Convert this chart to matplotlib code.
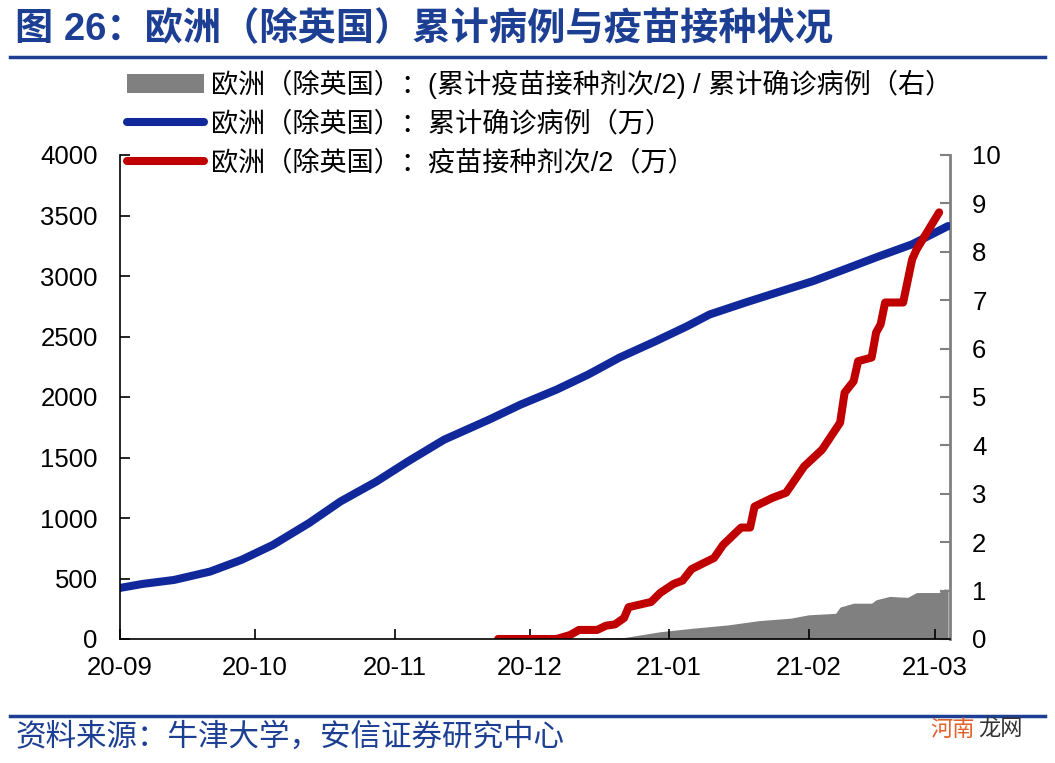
import matplotlib
matplotlib.use("Agg")
import matplotlib.pyplot as plt
import matplotlib.dates as mdates
from matplotlib.patches import Patch
from matplotlib.lines import Line2D
import pandas as pd

plt.rcParams['font.family'] = ['Liberation Sans', 'Noto Sans CJK SC', 'DejaVu Sans']

# 累计确诊病例（万）
case_dates = ['2020-09-01', '2020-09-06', '2020-09-13', '2020-09-21', '2020-09-28',
              '2020-10-05', '2020-10-13', '2020-10-20', '2020-10-28', '2020-11-04',
              '2020-11-12', '2020-11-22', '2020-11-29', '2020-12-07', '2020-12-14',
              '2020-12-21', '2020-12-29', '2021-01-05', '2021-01-10', '2021-01-18',
              '2021-01-25', '2021-02-02', '2021-02-09', '2021-02-16', '2021-02-24',
              '2021-03-04']
cases = [422, 455, 488, 557, 654, 778, 958, 1137, 1302, 1468, 1647, 1813, 1937,
         2061, 2185, 2326, 2461, 2585, 2682, 2781, 2864, 2958, 3055, 3154, 3262, 3413]

# 疫苗接种剂次/2（万）
vac_dates = ['2020-11-24', '2020-12-07', '2020-12-10', '2020-12-12', '2020-12-16',
             '2020-12-18', '2020-12-20', '2020-12-22', '2020-12-23', '2020-12-28',
             '2020-12-30', '2021-01-02', '2021-01-04', '2021-01-06', '2021-01-11',
             '2021-01-13', '2021-01-17', '2021-01-19', '2021-01-20', '2021-01-24',
             '2021-01-27', '2021-01-31', '2021-02-04', '2021-02-08', '2021-02-09',
             '2021-02-11', '2021-02-12', '2021-02-15', '2021-02-16', '2021-02-17',
             '2021-02-18', '2021-02-22', '2021-02-24', '2021-02-25', '2021-03-02']
vaccine = [0, 0, 33, 75, 75, 110, 121, 174, 263, 306, 380, 455, 483, 578, 670,
           778, 921, 921, 1095, 1167, 1209, 1426, 1565, 1788, 2036, 2130, 2296,
           2326, 2533, 2600, 2781, 2781, 3137, 3220, 3526]

# (累计疫苗接种剂次/2) / 累计确诊病例（右）
ratio_dates = ['2020-12-10', '2020-12-22', '2020-12-30', '2021-01-06', '2021-01-14',
               '2021-01-21', '2021-01-28', '2021-02-01', '2021-02-07', '2021-02-08',
               '2021-02-11', '2021-02-15', '2021-02-16', '2021-02-19', '2021-02-23',
               '2021-02-25', '2021-03-02', '2021-03-03', '2021-03-04']
ratio = [0.0, 0.03, 0.15, 0.22, 0.29, 0.38, 0.43, 0.50, 0.53, 0.66, 0.74, 0.74,
         0.81, 0.88, 0.86, 0.96, 0.96, 1.03, 1.03]

label_ratio = '欧洲（除英国）：(累计疫苗接种剂次/2) / 累计确诊病例（右）'
label_cases = '欧洲（除英国）：累计确诊病例（万）'
label_vac = '欧洲（除英国）：疫苗接种剂次/2（万）'

blue = '#10289A'
red = '#C00000'
grey = '#808080'
title_blue = '#1C3F94'

fig = plt.figure(figsize=(10.55, 7.63), dpi=100)
ax = fig.add_axes([120 / 1055, 1 - 639 / 763, 830 / 1055, 484 / 763])
ax2 = ax.twinx()

ax2.fill_between(pd.to_datetime(ratio_dates), ratio, 0, color=grey, linewidth=0)
ax.plot(pd.to_datetime(case_dates), cases, color=blue, lw=5.8, solid_capstyle='round')
ax.plot(pd.to_datetime(vac_dates), vaccine, color=red, lw=5.8, solid_capstyle='round')

ax.set_zorder(ax2.get_zorder() + 1)
ax.patch.set_visible(False)

ax.set_xlim(pd.Timestamp('2020-09-01'), pd.Timestamp('2021-03-04 10:00'))
ax.set_ylim(0, 4000)
ax2.set_ylim(0, 10)
ax.set_yticks(range(0, 4001, 500))
ax2.set_yticks(range(0, 11))

ax.xaxis.set_major_locator(mdates.MonthLocator())
ax.xaxis.set_major_formatter(mdates.DateFormatter('%y-%m'))

ax.tick_params(axis='y', direction='in', length=7, width=1.2, labelsize=18.5, pad=16, color='black')
ax.tick_params(axis='x', direction='in', length=7, width=1.2, labelsize=18.5, pad=12, color='black')
ax2.tick_params(axis='y', direction='in', length=7, width=1.5, labelsize=18.5, pad=16, color=grey)

for a in (ax, ax2):
    a.spines['top'].set_visible(False)
ax.spines['right'].set_visible(False)
ax2.spines['left'].set_visible(False)
ax2.spines['bottom'].set_visible(False)
ax.spines['left'].set_linewidth(1.2)
ax.spines['bottom'].set_linewidth(1.2)
ax2.spines['right'].set_color(grey)
ax2.spines['right'].set_linewidth(2)

handles = [Patch(facecolor=grey, edgecolor='none'),
           Line2D([], [], color=blue, lw=5.8, solid_capstyle='round'),
           Line2D([], [], color=red, lw=5.8, solid_capstyle='round')]
fig.legend(handles, [label_ratio, label_cases, label_vac], loc='upper left',
           bbox_to_anchor=(127 / 1055, 1 - 70 / 763), frameon=False, fontsize=19.5,
           handlelength=2.85, handletextpad=0.26, labelspacing=0.46,
           borderpad=0, borderaxespad=0)

# title and frame lines
fig.text(15 / 1055, 1 - 30 / 763, '图 26：欧洲（除英国）累计病例与疫苗接种状况',
         fontsize=27.5, fontweight='bold', color=title_blue, va='center', ha='left')
fig.add_artist(Line2D([10 / 1055, 1045 / 1055], [1 - 57 / 763, 1 - 57 / 763],
                      color=title_blue, lw=2.5))
fig.add_artist(Line2D([10 / 1055, 1045 / 1055], [1 - 716 / 763, 1 - 716 / 763],
                      color=title_blue, lw=2.5))
fig.text(15 / 1055, 1 - 738 / 763, '资料来源：牛津大学，安信证券研究中心',
         fontsize=22, style='italic', color=title_blue, va='center', ha='left')
fig.text(930 / 1055, 1 - 730 / 763, '河南', fontsize=16, color='#E0622A', va='center', ha='left')
fig.text(978 / 1055, 1 - 730 / 763, '龙网', fontsize=16, color='#333333', va='center', ha='left')

fig.savefig('out.png', dpi=100)
